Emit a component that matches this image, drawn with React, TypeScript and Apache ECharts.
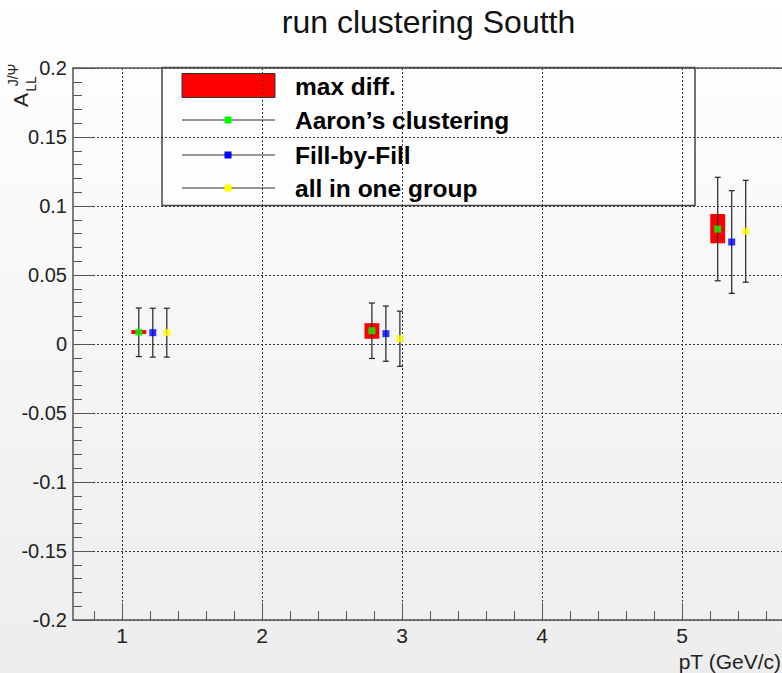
import React, { useEffect, useRef } from "react";
import * as echarts from "echarts";

// pT positions (GeV/c) of each method's points
const ptAaron = [1.12, 2.785, 5.255];
const ptFill = [1.22, 2.885, 5.355];
const ptOne = [1.32, 2.985, 5.455];

// A_LL values and statistical errors per method
const allAaron = [0.0085, 0.0096, 0.0833];
const errAaron = [0.0176, 0.0201, 0.0375];
const allFill = [0.0082, 0.0075, 0.0739];
const errFill = [0.0177, 0.02, 0.0372];
const allOne = [0.0082, 0.0038, 0.0817];
const errOne = [0.0177, 0.02, 0.0369];

// max difference band around the Aaron's clustering points
const maxDiffLow = [0.0072, 0.0038, 0.073];
const maxDiffHigh = [0.0101, 0.0151, 0.0942];
const maxDiffHalfWidth = 0.053;

// axis ticks
const xMajorTicks = [1, 2, 3, 4, 5];
const xMinorTicks = [0.8, 1.2, 1.4, 1.6, 1.8, 2.2, 2.4, 2.6, 2.8, 3.2, 3.4, 3.6, 3.8, 4.2, 4.4, 4.6, 4.8, 5.2, 5.4, 5.6];

const FONT = "'Liberation Sans', Arial, sans-serif";
const AXIS_COLOR = "#555";
const GRID_LINE = { type: [2, 2], color: "#333", width: 1 } as any;

function errorBarSeries(name: string, xs: number[], ys: number[], errs: number[]) {
  return {
    name,
    type: "custom",
    xAxisIndex: 0,
    yAxisIndex: 0,
    silent: true,
    data: xs.map((x, i) => [x, ys[i] - errs[i], ys[i] + errs[i]]),
    renderItem: (_params: any, api: any) => {
      const x = api.value(0);
      const top = api.coord([x, api.value(2)]);
      const bot = api.coord([x, api.value(1)]);
      const cap = 3;
      const style = { stroke: "#222", lineWidth: 1.2 };
      return {
        type: "group",
        children: [
          { type: "line", shape: { x1: top[0], y1: top[1], x2: bot[0], y2: bot[1] }, style },
          { type: "line", shape: { x1: top[0] - cap, y1: top[1], x2: top[0] + cap, y2: top[1] }, style },
          { type: "line", shape: { x1: bot[0] - cap, y1: bot[1], x2: bot[0] + cap, y2: bot[1] }, style },
        ],
      };
    },
  };
}

function pointSeries(name: string, xs: number[], ys: number[], color: string) {
  return {
    name,
    type: "scatter",
    xAxisIndex: 0,
    yAxisIndex: 0,
    symbol: "rect",
    symbolSize: 7,
    itemStyle: { color },
    data: xs.map((x, i) => [x, ys[i]]),
  };
}

function legendRow(y: number, color: string, label: string) {
  return [
    { type: "line", shape: { x1: 182, y1: y, x2: 275, y2: y }, style: { stroke: "#333", lineWidth: 1 } },
    { type: "rect", shape: { x: 224.5, y: y - 3.5, width: 7, height: 7 }, style: { fill: color } },
    {
      type: "text",
      x: 295,
      y,
      style: { text: label, fontSize: 24.5, fontWeight: "bold", fontFamily: FONT, fill: "#000", align: "left", verticalAlign: "middle" },
    },
  ];
}

export default function App() {
  const ref = useRef<HTMLDivElement>(null);

  useEffect(() => {
    if (!ref.current) return;
    const chart = echarts.init(ref.current, undefined, { renderer: "svg" });

    const option: any = {
      animation: false,
      backgroundColor: new echarts.graphic.LinearGradient(0, 0, 0, 1, [
        { offset: 0, color: "#ffffff" },
        { offset: 1, color: "#ededed" },
      ]),
      grid: { left: 73, top: 68, width: 714, height: 552, containLabel: false },
      xAxis: [
        {
          type: "value",
          position: "bottom",
          min: 0.65,
          max: 5.75,
          axisLine: { show: true, onZero: false, lineStyle: { color: AXIS_COLOR, width: 1.5 } },
          axisTick: { show: true, inside: true, length: 17, customValues: xMajorTicks, lineStyle: { color: AXIS_COLOR, width: 1 } },
          axisLabel: { show: true, customValues: xMajorTicks, fontSize: 21, margin: 5, color: "#222", fontFamily: FONT },
          splitLine: { show: true, lineStyle: GRID_LINE },
          minorTick: { show: false },
        },
        {
          type: "value",
          position: "bottom",
          min: 0.65,
          max: 5.75,
          axisLine: { show: false, onZero: false },
          axisTick: { show: true, inside: true, length: 9, customValues: xMinorTicks, lineStyle: { color: AXIS_COLOR, width: 1 } },
          axisLabel: { show: false },
          splitLine: { show: false },
        },
        {
          type: "value",
          position: "top",
          min: 0.65,
          max: 5.75,
          axisLine: { show: true, onZero: false, lineStyle: { color: AXIS_COLOR, width: 1.5 } },
          axisTick: { show: false },
          axisLabel: { show: false },
          splitLine: { show: false },
        },
      ],
      yAxis: {
        type: "value",
        min: -0.2,
        max: 0.2,
        interval: 0.05,
        axisLine: { show: true, onZero: false, lineStyle: { color: AXIS_COLOR, width: 1.5 } },
        axisTick: { show: true, inside: true, length: 20, lineStyle: { color: AXIS_COLOR, width: 1 } },
        minorTick: { show: true, splitNumber: 5, length: 9, lineStyle: { color: AXIS_COLOR, width: 1 } },
        axisLabel: {
          fontSize: 20,
          margin: 6,
          color: "#222",
          fontFamily: FONT,
          formatter: (v: number) => String(+v.toFixed(2)),
        },
        splitLine: { show: true, lineStyle: GRID_LINE },
      },
      series: [
        {
          name: "max diff.",
          type: "custom",
          xAxisIndex: 0,
          yAxisIndex: 0,
          silent: true,
          data: ptAaron.map((x, i) => [x, maxDiffLow[i], maxDiffHigh[i]]),
          renderItem: (_params: any, api: any) => {
            const x = api.value(0);
            const p1 = api.coord([x - maxDiffHalfWidth, api.value(2)]);
            const p2 = api.coord([x + maxDiffHalfWidth, api.value(1)]);
            return {
              type: "rect",
              shape: { x: p1[0], y: p1[1], width: p2[0] - p1[0], height: p2[1] - p1[1] },
              style: { fill: "#ff0000" },
            };
          },
        },
        errorBarSeries("Aaron’s clustering err", ptAaron, allAaron, errAaron),
        errorBarSeries("Fill-by-Fill err", ptFill, allFill, errFill),
        errorBarSeries("all in one group err", ptOne, allOne, errOne),
        pointSeries("Aaron’s clustering", ptAaron, allAaron, "#00ff00"),
        pointSeries("Fill-by-Fill", ptFill, allFill, "#0000ff"),
        pointSeries("all in one group", ptOne, allOne, "#ffff00"),
      ],
      graphic: [
        {
          type: "text",
          x: 428.5,
          y: 22,
          style: { text: "run clustering Soutth", fontSize: 32, fontFamily: FONT, fill: "#111", align: "center", verticalAlign: "middle" },
        },
        {
          type: "text",
          x: 781,
          y: 661,
          style: { text: "pT (GeV/c)", fontSize: 21, fontFamily: FONT, fill: "#222", align: "right", verticalAlign: "middle" },
        },
        {
          type: "text",
          x: 20,
          y: 100,
          rotation: Math.PI / 2,
          style: { text: "A", fontSize: 21, fontFamily: FONT, fill: "#222", align: "center", verticalAlign: "middle" },
        },
        {
          type: "text",
          x: 31,
          y: 84,
          rotation: Math.PI / 2,
          style: { text: "LL", fontSize: 14, fontFamily: FONT, fill: "#222", align: "center", verticalAlign: "middle" },
        },
        {
          type: "text",
          x: 13,
          y: 75,
          rotation: Math.PI / 2,
          style: { text: "J/Ψ", fontSize: 14, fontFamily: FONT, fill: "#222", align: "center", verticalAlign: "middle" },
        },
        {
          type: "group",
          z: 100,
          children: [
            {
              type: "rect",
              shape: { x: 162, y: 67.5, width: 533, height: 138 },
              style: { fill: "#fdfdfd", stroke: "#444", lineWidth: 1.5 },
            },
            {
              type: "rect",
              shape: { x: 182, y: 73.5, width: 93, height: 24 },
              style: { fill: "#ff0000", stroke: "#333", lineWidth: 1 },
            },
            {
              type: "text",
              x: 295,
              y: 86,
              style: { text: "max diff.", fontSize: 24.5, fontWeight: "bold", fontFamily: FONT, fill: "#000", align: "left", verticalAlign: "middle" },
            },
            ...legendRow(120, "#00ff00", "Aaron’s clustering"),
            ...legendRow(155, "#0000ff", "Fill-by-Fill"),
            ...legendRow(188, "#ffff00", "all in one group"),
          ],
        },
      ],
    };

    chart.setOption(option);
    return () => chart.dispose();
  }, []);

  return (
    <div style={{ position: "fixed", left: 0, top: 0, width: 782, height: 673, overflow: "hidden" }}>
      <div ref={ref} style={{ width: 820, height: 673 }} />
    </div>
  );
}
